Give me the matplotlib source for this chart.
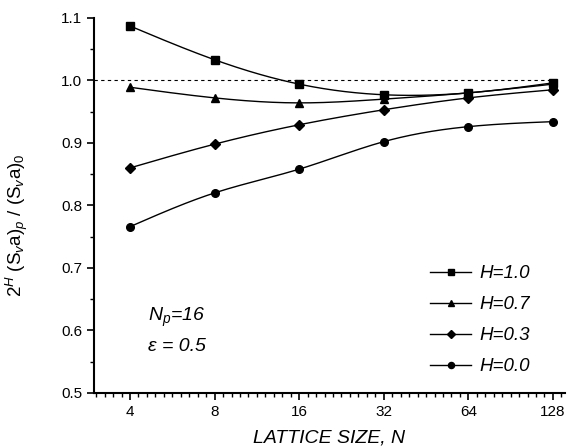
import numpy as np
import matplotlib
matplotlib.use("Agg")
import matplotlib.pyplot as plt
from matplotlib.ticker import NullFormatter

plt.rcParams['font.family'] = ['Liberation Sans', 'DejaVu Sans']
plt.rcParams['mathtext.fontset'] = 'custom'
plt.rcParams['mathtext.rm'] = 'Liberation Sans'
plt.rcParams['mathtext.it'] = 'Liberation Sans:italic'

lattice = [4, 8, 16, 32, 64, 128]
h10 = [1.087, 1.033, 0.994, 0.977, 0.980, 0.996]
h07 = [0.989, 0.972, 0.964, 0.970, 0.980, 0.994]
h03 = [0.860, 0.898, 0.929, 0.953, 0.972, 0.985]
h00 = [0.766, 0.820, 0.858, 0.902, 0.926, 0.934]

series = [("H=1.0", h10, "s"), ("H=0.7", h07, "^"),
          ("H=0.3", h03, "D"), ("H=0.0", h00, "o")]


def spline(xs, ys, n=200):
    # natural cubic spline, evaluated on a fine grid
    xs = np.asarray(xs, float)
    ys = np.asarray(ys, float)
    k = len(xs)
    h = np.diff(xs)
    A = np.zeros((k, k))
    r = np.zeros(k)
    A[0, 0] = A[-1, -1] = 1
    for i in range(1, k - 1):
        A[i, i - 1] = h[i - 1]
        A[i, i] = 2 * (h[i - 1] + h[i])
        A[i, i + 1] = h[i]
        r[i] = 3 * ((ys[i + 1] - ys[i]) / h[i] - (ys[i] - ys[i - 1]) / h[i - 1])
    c = np.linalg.solve(A, r)
    b = np.diff(ys) / h - h * (2 * c[:-1] + c[1:]) / 3
    d = np.diff(c) / (3 * h)
    xf = np.linspace(xs[0], xs[-1], n)
    idx = np.clip(np.searchsorted(xs, xf) - 1, 0, k - 2)
    t = xf - xs[idx]
    yf = ys[idx] + b[idx] * t + c[idx] * t ** 2 + d[idx] * t ** 3
    return xf, yf


fig = plt.figure(figsize=(5.81, 4.47), dpi=100)
ax = fig.add_axes([0.162, 0.121, 0.810, 0.839])
ax.set_xscale('log', base=2)

lx = np.log2(lattice)
for label, vals, m in series:
    xf, yf = spline(lx, vals)
    ax.plot(2 ** xf, yf, color='black', lw=1.0)
    ms = 5.5 if m in ("s", "o") else (5 if m == "D" else 6)
    ax.plot(lattice, vals, ls='none', marker=m, ms=ms, color='black')
    ax.plot([], [], color='black', lw=1.0, marker=m, ms=ms * 0.8, label=label)

ax.plot([2.98, 128], [1.0, 1.0], ls=(0, (3, 3)), color='black', lw=0.8)

ax.set_xlim(2.98, 141)
ax.set_ylim(0.5, 1.1)
ax.set_xticks(lattice, [str(v) for v in lattice])
minor_x = [2 ** (k / 10.0) for k in range(16, 72) if k % 10 != 0]
ax.set_xticks(minor_x, minor=True)
ax.xaxis.set_minor_formatter(NullFormatter())
ax.set_yticks(np.arange(0.5, 1.11, 0.1), [f"{v:.1f}" for v in np.arange(0.5, 1.11, 0.1)])
ax.set_yticks(np.arange(0.55, 1.1, 0.1), minor=True)

for s in ['top', 'right']:
    ax.spines[s].set_visible(False)
for s in ['left', 'bottom']:
    ax.spines[s].set_linewidth(1.5)
ax.tick_params(which='major', direction='out', length=5, width=1.2, labelsize=11)
ax.tick_params(which='minor', direction='out', length=3, width=1.0)

ax.set_xlabel("LATTICE SIZE, N", fontsize=14, style='italic', labelpad=8)
ax.set_ylabel(r"$2^{H}\ (\mathrm{S}_{v}\mathrm{a})_{p}\ /\ (\mathrm{S}_{v}\mathrm{a})_{0}$",
              fontsize=13.5)
ax.yaxis.set_label_coords(-0.136, 0.448)

ax.text(4.64, 0.6216, r"$N_p$=16", fontsize=14, style='italic', va='center')
ax.text(4.64, 0.5736, "\u03b5 = 0.5", fontsize=14, style='italic', va='center')

ax.legend(loc='upper left', bbox_to_anchor=(430 / 581, 1 - 265 / 447),
          bbox_transform=fig.transFigure, frameon=False,
          prop={'size': 13.5, 'style': 'italic'}, handlelength=2.2,
          labelspacing=0.74, handletextpad=0.43, borderpad=0, borderaxespad=0)

fig.savefig("out.png", dpi=100)
